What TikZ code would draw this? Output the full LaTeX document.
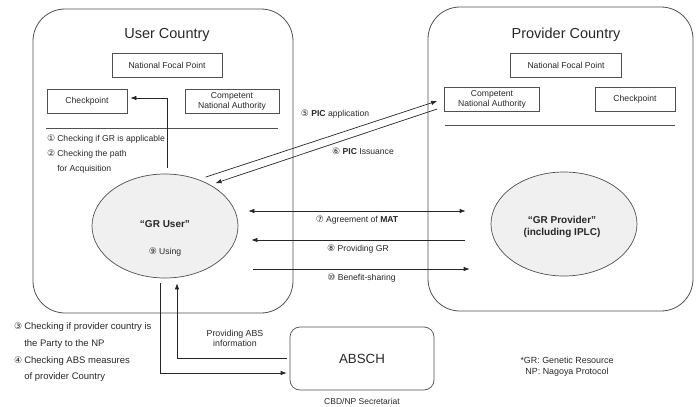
\documentclass[tikz,border=0pt]{standalone}
\usepackage{fontspec}
\setmainfont{Liberation Sans}
\newfontfamily\circfont{DejaVu Sans}
\usepackage{tikz}
\usetikzlibrary{arrows.meta}
\usetikzlibrary{shapes,positioning}
\newcommand{\cnum}[1]{{\circfont\fontsize{9}{9}\selectfont #1}}
\definecolor{linegray}{RGB}{80,80,80}
\definecolor{textgray}{RGB}{40,40,40}
\definecolor{ellfill}{RGB}{240,240,240}

\begin{document}
\begin{tikzpicture}[x=1pt,y=-1pt,text=textgray,
    country/.style={draw=linegray, line width=0.8pt, rounded corners=32pt, minimum width=260pt, minimum height=304pt},
    office/.style={draw=linegray, line width=0.7pt, font=\fontsize{8.6}{10}\selectfont, inner sep=0pt, minimum height=24pt, align=center},
    actor/.style={ellipse, draw=linegray, line width=0.7pt, fill=ellfill, minimum width=146pt, minimum height=104pt, inner sep=0pt},
    actorname/.style={font=\fontsize{10}{12}\selectfont\bfseries, align=center},
    flow/.style={-{Latex[length=6pt,width=4.5pt]}, line width=0.7pt, black!85},
    small/.style={font=\fontsize{8.6}{10}\selectfont}]
        \useasboundingbox (0,0) rectangle (697,407);
        % user side
        \node[country] (usr) at (163,161) {};
        \node[font=\fontsize{14.5}{16}\selectfont] (usrtitle) at (167,35) {User Country};
        \node[office, minimum width=110pt] (unfp) at (167,65) {National Focal Point};
        \node[office, minimum width=80pt] (ucp) at (87,101) {Checkpoint};
        \node[office, minimum width=94pt] (ucna) at (232,101) {Competent\\National Authority};
        \draw[linegray, line width=0.7pt] (46,128) -- (278,128);
        \node[anchor=north west, inner sep=0pt, font=\fontsize{8.6}{15}\selectfont] (uchecks) at (47,131)
            {\begin{tabular}{@{}l@{\hspace{2pt}}l@{}}
             \cnum{①} & Checking if GR is applicable\\
             \cnum{②} & Checking the path\\
                      & for Acquisition
             \end{tabular}};
        \node[actor] (gruser) at (165,226) {};
        \node[actorname] (grusername) at (165,224) {“GR User”};
        \node[small] (using) at (165,252) {\cnum{⑨} Using};
        \draw[flow, shorten <=6pt, shorten >=3pt] ([xshift=2pt]gruser.north) |- ([yshift=3pt]ucp.east);
        % provider side
        \node[country, minimum width=265pt] (prv) at (560.5,159) {};
        \node[font=\fontsize{14.5}{16}\selectfont] (prvtitle) at (566,35) {Provider Country};
        \node[office, minimum width=111pt] (pnfp) at (566,65) {National Focal Point};
        \node[office, minimum width=95pt] (pcna) at (492,99) {Competent\\National Authority};
        \node[office, minimum width=80pt] (pcp) at (635,99) {Checkpoint};
        \draw[linegray, line width=0.7pt] (445,125) -- (675,125);
        \node[actor] (grprov) at (564,224) {};
        \node[actorname] (grprovname) at (562,227) {“GR Provider”\\(including IPLC)};
        % PIC
        \draw[flow] ([xshift=3pt,yshift=4pt]gruser.50) -- ([xshift=-7pt,yshift=-2pt]pcna.west);
        \draw[flow] ([xshift=-7pt,yshift=-10pt]pcna.west) -- ([xshift=3pt,yshift=3pt]gruser.40);
        \node[small] (picapp) at (335,114) {\cnum{⑤} \textbf{PIC} application};
        \node[small] (piciss) at (363,151) {\cnum{⑥} \textbf{PIC} Issuance};
        % MAT, GR, benefits
        \draw[flow, {Latex[length=6pt,width=4.5pt]}-{Latex[length=6pt,width=4.5pt]}] ([xshift=10pt,yshift=15pt]gruser.east) -- node[small, below=1pt] (mat) {\cnum{⑦} Agreement of \textbf{MAT}} ([xshift=-25pt,yshift=13pt]grprov.west);
        \draw[flow] ([xshift=-26pt,yshift=-16pt]grprov.west) -- node[small, below=1pt] (givegr) {\cnum{⑧} Providing GR} ([xshift=13pt,yshift=-14pt]gruser.east);
        \draw[flow] ([xshift=15pt,yshift=-43pt]gruser.east) -- node[small, below=1pt] (share) {\cnum{⑩} Benefit-sharing} ([xshift=-21pt,yshift=-45pt]grprov.west);
        % ABSCH
        \node[draw=linegray, line width=0.7pt, rounded corners=10pt, minimum width=144pt, minimum height=63pt, font=\fontsize{13.3}{15}\selectfont] (absch) at (362,358.5) {ABSCH};
        \draw[flow] ([xshift=-3pt]absch.west) -| ([xshift=12pt,yshift=-5pt]gruser.south);
        \draw[flow] ([xshift=-5pt,yshift=-5pt]gruser.south) |- ([xshift=-3pt,yshift=-14.5pt]absch.west);
        \node[align=center, font=\fontsize{8.8}{10}\selectfont] (absinfo) at (235,338) {Providing ABS\\information};
        \node[anchor=north west, inner sep=0pt, font=\fontsize{9.5}{16.7}\selectfont] (pchecks) at (14,318)
            {\begin{tabular}{@{}l@{\hspace{2pt}}l@{}}
             \cnum{③} & Checking if provider country is\\
                      & the Party to the NP\\
             \cnum{④} & Checking ABS measures\\
                      & of provider Country
             \end{tabular}};
        \node[align=center, font=\fontsize{8.9}{11}\selectfont] (note) at (567,366.5) {*GR: Genetic Resource\\NP: Nagoya Protocol};
        \node[anchor=base, font=\fontsize{8.5}{10}\selectfont] (secr) at (362,404) {CBD/NP Secretariat};
\end{tikzpicture}
\end{document}
